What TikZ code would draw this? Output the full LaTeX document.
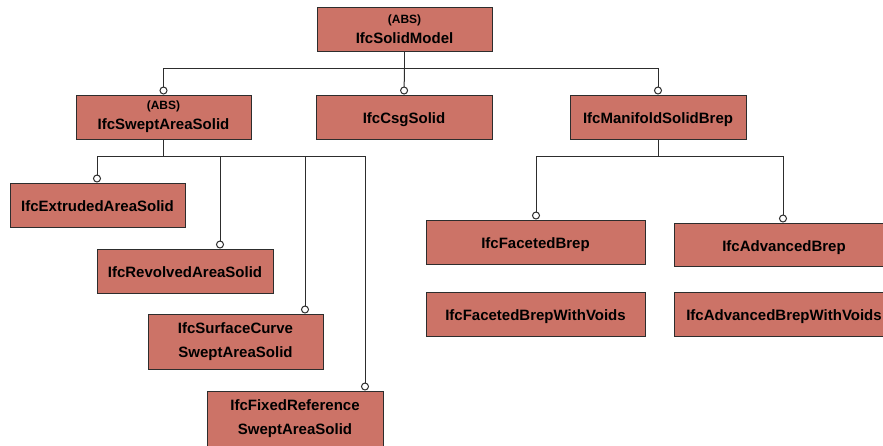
\documentclass[tikz,border=0pt]{standalone}
\usepackage{fontspec}
\setmainfont{Liberation Sans}
\usetikzlibrary{arrows.meta}
\definecolor{boxfill}{RGB}{204,115,103}
\definecolor{lineclr}{RGB}{45,45,45}
\tikzset{
  cls/.style={draw=lineclr, line width=1pt, fill=boxfill, minimum width=175pt, minimum height=44pt,
    inner sep=0pt, align=center, font=\fontsize{15}{24}\selectfont\bfseries},
  oneline/.style={text height=13pt, text depth=0pt},
  conn/.style={draw=lineclr, line width=1pt},
  inh/.style={conn, -{Circle[open, fill=white, length=8pt, width=8pt]}},
}
\newcommand{\absl}{{\fontsize{12}{12}\selectfont (ABS)}\\[-4pt]}
\begin{document}
\begin{tikzpicture}[x=1pt, y=-1pt]
\useasboundingbox (0,0) rectangle (883,445);
\clip (0,0) rectangle (883,445);
% nodes
\node[cls] (sm) at (404.5,29.5) {\absl IfcSolidModel};
\node[cls] (swept) at (163.5,117) {\absl IfcSweptAreaSolid};
\node[cls, oneline, minimum width=176pt] (csg) at (404,117) {IfcCsgSolid};
\node[cls, oneline, minimum width=176pt] (msb) at (658,117) {IfcManifoldSolidBrep};
\node[cls, oneline] (ext) at (97.5,205) {IfcExtrudedAreaSolid};
\node[cls, oneline, minimum width=176pt] (rev) at (185,271) {IfcRevolvedAreaSolid};
\node[cls, minimum height=55pt] (surf) at (235.5,341.5) {IfcSurfaceCurve\\SweptAreaSolid};
\node[cls, minimum height=55pt, minimum width=176pt] (fix) at (295,418.5) {IfcFixedReference\\SweptAreaSolid};
\node[cls, oneline, minimum width=219pt] (fb) at (535.5,242) {IfcFacetedBrep};
\node[cls, oneline, minimum width=220pt, minimum height=43pt] (ab) at (784,244.5) {IfcAdvancedBrep};
\node[cls, oneline, minimum width=219pt] (fbv) at (535.5,314) {IfcFacetedBrepWithVoids};
\node[cls, oneline, minimum width=220pt] (abv) at (784,314) {IfcAdvancedBrepWithVoids};
% buses
\coordinate (busA) at (404.5,68);
\coordinate (busB) at (163.5,156);
\coordinate (busC) at (658,156);
\coordinate (xrev) at (220,156);
\coordinate (xsurf) at (305,156);
\coordinate (xfix) at (365,156);
\coordinate (xext) at (97,156);
\coordinate (xfb) at (536,156);
\coordinate (xab) at (783,156);
% top level
\draw[conn] (sm.south) -- (busA);
\draw[conn] (swept.north |- busA) -- (msb.north |- busA);
\draw[inh] (swept.north |- busA) -- (swept.north);
\draw[inh] (busA) -- (csg.north);
\draw[inh] (msb.north |- busA) -- (msb.north);
% swept area children
\draw[conn] (swept.south) -- (busB);
\draw[conn] (xext) -- (xfix);
\draw[inh] (xext) -- (xext |- ext.north);
\draw[inh] (xrev) -- (xrev |- rev.north);
\draw[inh] (xsurf) -- (xsurf |- surf.north);
\draw[inh] (xfix) -- (xfix |- fix.north);
% manifold children
\draw[conn] (msb.south) -- (busC);
\draw[conn] (xfb) -- (xab);
\draw[inh] (xfb) -- (xfb |- fb.north);
\draw[inh] (xab) -- (xab |- ab.north);
\end{tikzpicture}
\end{document}
